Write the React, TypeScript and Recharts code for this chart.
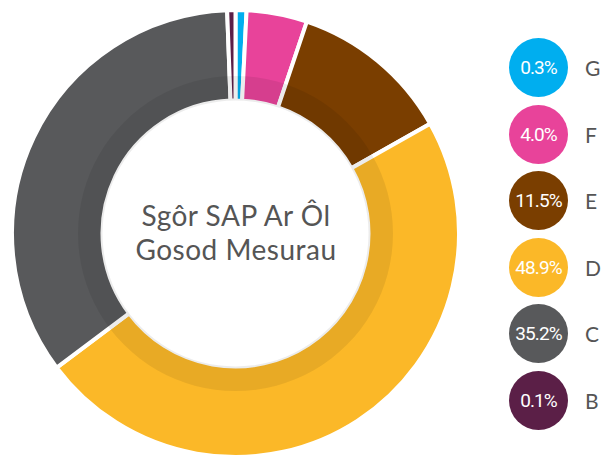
import React from "react";
import { PieChart, Pie, Cell, Legend } from "recharts";

// clockwise from 12 o'clock
const BANDS = ["G", "F", "E", "D", "C", "B"];
const SHARES = [0.3, 4.0, 11.5, 48.9, 35.2, 0.1];
const COLORS = ["#00AEEF", "#E8439A", "#7A3E00", "#FBB828", "#58595B", "#5B1F47"];
const TITLE_LINES = ["Sgôr SAP Ar Ôl", "Gosod Mesurau"];

const data = BANDS.map((band, i) => ({ band, share: SHARES[i], color: COLORS[i] }));
const ring = [{ name: "shade", value: 1 }];

const LegendList = () => (
  <div style={{ display: "flex", flexDirection: "column", gap: 7.5 }}>
    {data.map((d) => (
      <div key={d.band} style={{ display: "flex", alignItems: "center", height: 59 }}>
        <div
          style={{
            width: 59,
            height: 59,
            borderRadius: "50%",
            background: d.color,
            color: "#fff",
            display: "flex",
            alignItems: "center",
            justifyContent: "center",
            fontFamily: "Roboto, sans-serif",
            fontSize: 19,
            letterSpacing: -0.9,
          }}
        >
          {d.share.toFixed(1)}%
        </div>
        <span
          style={{
            marginLeft: 17,
            fontFamily: "Lato, sans-serif",
            fontSize: 21,
            color: "#555",
          }}
        >
          {d.band}
        </span>
      </div>
    ))}
  </div>
);

export default function App() {
  return (
    <div style={{ position: "absolute", left: 0, top: 0, width: 601, height: 457, background: "#fff" }}>
      <PieChart width={601} height={457} margin={{ top: 0, right: 0, bottom: 0, left: 0 }}>
        <Pie
          data={data}
          dataKey="share"
          nameKey="band"
          cx={235.5}
          cy={233.5}
          innerRadius={133}
          outerRadius={223.5}
          startAngle={90}
          endAngle={-270}
          minAngle={1.8}
          stroke="#fff"
          strokeWidth={4}
          isAnimationActive={false}
        >
          {data.map((d) => (
            <Cell key={d.band} fill={d.color} />
          ))}
        </Pie>
        {/* darker inner band laid over the ring */}
        <Pie
          data={ring}
          dataKey="value"
          cx={235.5}
          cy={233.5}
          innerRadius={133}
          outerRadius={157.5}
          startAngle={90}
          endAngle={-270}
          fill="#000"
          fillOpacity={0.075}
          stroke="none"
          isAnimationActive={false}
        />
        <text
          textAnchor="middle"
          fontFamily="Lato, sans-serif"
          fontSize={28}
          letterSpacing={0.5}
          fill="#555"
        >
          <tspan x={236} y={226}>{TITLE_LINES[0]}</tspan>
          <tspan x={236} y={260}>{TITLE_LINES[1]}</tspan>
        </text>
        <Legend
          content={<LegendList />}
          wrapperStyle={{ position: "absolute", left: 509, top: 38, width: 92 }}
        />
      </PieChart>
    </div>
  );
}
